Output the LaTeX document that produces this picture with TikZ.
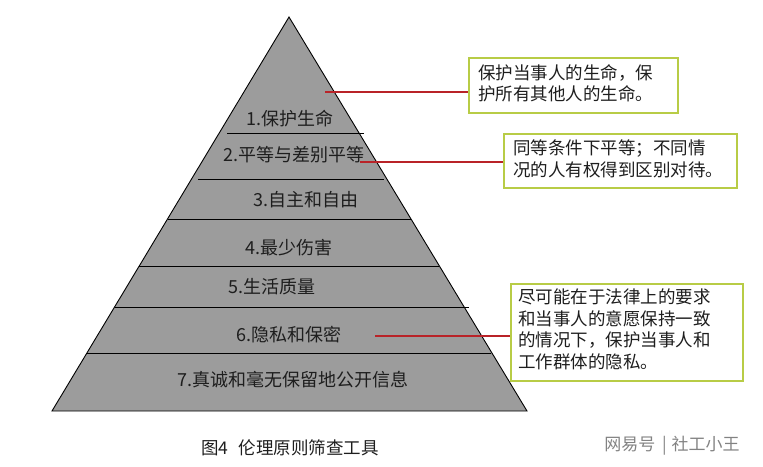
\documentclass[tikz,border=0pt]{standalone}
\usepackage{fontspec}
\setmainfont{Liberation Sans}
\newfontfamily\cjk{Noto Sans CJK SC}
\definecolor{pyr}{RGB}{156,156,156}
\definecolor{redline}{RGB}{185,35,40}
\definecolor{boxline}{RGB}{184,204,70}
\definecolor{txt}{RGB}{30,30,30}
\definecolor{wm}{RGB}{130,130,130}
\begin{document}
\begin{tikzpicture}[x=1pt,y=-1pt,
  layer/.style={draw=black,line width=0.9pt},
  lbl/.style={font=\fontsize{18}{20}\selectfont\cjk,text=txt,inner sep=0pt},
  note/.style={draw=boxline,line width=2.2pt,fill=white,inner sep=0pt},
  notetxt/.style={font=\fontsize{17.5}{21.5}\selectfont\cjk,text=txt,align=left,inner sep=0pt,anchor=north west},
  conn/.style={draw=redline,line width=1.8pt}]
\useasboundingbox (0,0) rectangle (763,466);
% pyramid
\coordinate (A) at (289,17);
\coordinate (BL) at (52,411);
\coordinate (BR) at (527,411);
\filldraw[fill=pyr,draw=black,line width=0.9pt] (A) -- (BR) -- (BL) -- cycle;
% division lines
\coordinate (d1l) at (227,133); \coordinate (d1r) at (364,133);
\coordinate (d2l) at (198,179); \coordinate (d2r) at (384,179);
\coordinate (d3l) at (167.5,219); \coordinate (d3r) at (410.5,219);
\coordinate (d4l) at (139.2,266); \coordinate (d4r) at (438.8,266);
\coordinate (d5l) at (114.6,307); \coordinate (d5r) at (469,307);
\coordinate (d6l) at (87,353); \coordinate (d6r) at (491,353);
\draw[layer] (d1l) -- (d1r);
\draw[layer] (d2l) -- (d2r);
\draw[layer] (d3l) -- (d3r);
\draw[layer] (d4l) -- (d4r);
\draw[layer] (d5l) -- (d5r);
\draw[layer] (d6l) -- (d6r);
% labels
\node[lbl] (l1) at (290,119) {1.保护生命};
\node[lbl] (l2) at (294,155) {2.平等与差别平等};
\node[lbl] (l3) at (306,200) {3.自主和自由};
\node[lbl] (l4) at (289,248) {4.最少伤害};
\node[lbl] (l5) at (272,287) {5.生活质量};
\node[lbl] (l6) at (289,335) {6.隐私和保密};
\node[lbl] (l7) at (293,380) {7.真诚和毫无保留地公开信息};
% note boxes
\node[note,minimum width=209pt,minimum height=55pt,anchor=north west] (b1) at (468,57) {};
\node[notetxt] (t1) at (478,64) {保护当事人的生命，保\\护所有其他人的生命。};
\node[note,minimum width=233pt,minimum height=54pt,anchor=north west] (b2) at (503,133) {};
\node[notetxt] (t2) at (513,140) {同等条件下平等；不同情\\况的人有权得到区别对待。};
\node[note,minimum width=232pt,minimum height=97pt,anchor=north west] (b3) at (510,283) {};
\node[notetxt] (t3) at (518,289) {尽可能在于法律上的要求\\和当事人的意愿保持一致\\的情况下，保护当事人和\\工作群体的隐私。};
% connectors
\coordinate (c1) at (325,92);
\coordinate (c2) at (360,162);
\coordinate (c3) at (375,336);
\draw[conn] (c1) -- (c1 -| b1.west);
\draw[conn] (c2) -- (c2 -| b2.west);
\draw[conn] (c3) -- (c3 -| b3.west);
% caption and watermark
\node[font=\fontsize{17.5}{19}\selectfont\cjk,text=txt,inner sep=0pt] (cap) at (290,448) {图4\hspace{0.6em}伦理原则筛查工具};
\node[font=\fontsize{17}{19}\selectfont\cjk,text=wm,inner sep=0pt] (wmk) at (672,446) {网易号\hspace{0.4em}|\hspace{0.3em}社工小王};
\end{tikzpicture}
\end{document}
